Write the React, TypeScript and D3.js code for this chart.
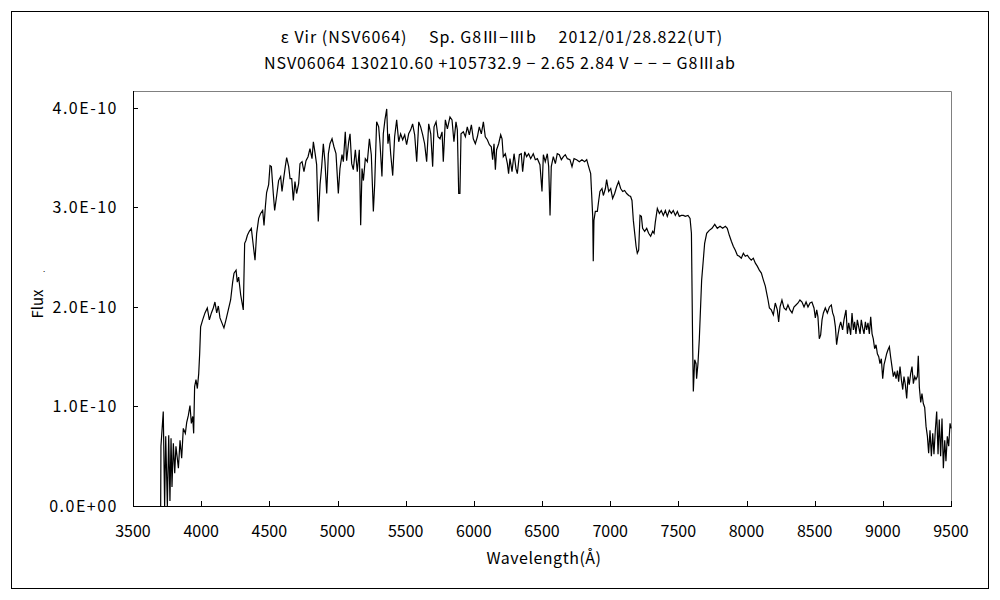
import React from "react";
import * as d3 from "d3";

const titleLine1 = "ε  Vir (NSV6064)　 Sp. G8Ⅲ−Ⅲb　 2012/01/28.822(UT)";
const titleLine2 = "NSV06064 130210.60 +105732.9 − 2.65 2.84 V − − − G8Ⅲab";
const xTicks = [3500, 4000, 4500, 5000, 5500, 6000, 6500, 7000, 7500, 8000, 8500, 9000, 9500];
const yTicks = [0, 1, 2, 3, 4];
const yTickLabels = ["0.0E+00", "1.0E-10", "2.0E-10", "3.0E-10", "4.0E-10"];
const xTitle = "Wavelength(Å)";
const yTitle = "Flux";

// wavelength (Å), flux (×1E-10)
const spectrumBlue: [number, number][] = [
  [3703, 0.0], [3705, 0.6], [3722, 0.95], [3732, 0.0], [3740, 0.7], [3752, 0.0], [3762, 0.71], [3771, 0.05],
  [3779, 0.68], [3786, 0.19], [3796, 0.63], [3806, 0.33], [3815, 0.6], [3833, 0.38], [3845, 0.66], [3857, 0.48],
  [3869, 0.78], [3884, 0.73], [3894, 0.84], [3906, 0.91], [3918, 1.01], [3928, 0.83], [3938, 0.9], [3945, 0.73],
  [3952, 1.2], [3962, 1.27], [3972, 1.18], [3982, 1.33], [3989, 1.53], [3996, 1.8], [4011, 1.87], [4028, 1.94],
  [4045, 1.99], [4060, 1.87], [4075, 1.94], [4089, 1.99], [4101, 2.05], [4114, 1.94], [4126, 2.01], [4138, 1.89],
  [4158, 1.82], [4167, 1.79], [4182, 1.87], [4199, 1.97], [4216, 2.07], [4231, 2.25], [4241, 2.34], [4256, 2.37],
  [4265, 2.25], [4275, 2.3], [4290, 2.12], [4309, 1.97], [4319, 2.64], [4329, 2.67], [4339, 2.72], [4353, 2.76],
  [4368, 2.79], [4383, 2.61], [4395, 2.47], [4407, 2.74], [4422, 2.89], [4436, 2.94], [4451, 2.97], [4461, 2.82],
  [4471, 3.01], [4480, 3.15], [4495, 3.23], [4505, 3.42], [4515, 3.41], [4529, 3.14], [4539, 2.97], [4554, 3.12],
  [4568, 3.27], [4583, 3.31], [4593, 3.16], [4603, 3.27], [4617, 3.41], [4627, 3.5], [4642, 3.41], [4652, 3.29],
  [4664, 3.29], [4676, 3.07], [4688, 3.26], [4700, 3.14], [4715, 3.24], [4725, 3.44], [4740, 3.46], [4754, 3.36],
  [4769, 3.47], [4784, 3.51], [4798, 3.59], [4813, 3.49], [4823, 3.66], [4837, 3.53], [4847, 3.43], [4859, 2.86],
  [4872, 3.23], [4884, 3.41], [4896, 3.64], [4908, 3.46], [4921, 3.14], [4933, 3.54], [4945, 3.64], [4960, 3.69],
  [4974, 3.61], [4989, 3.54], [5006, 3.14], [5018, 3.39], [5033, 3.53], [5043, 3.46], [5057, 3.76], [5067, 3.47],
  [5082, 3.66], [5092, 3.74], [5104, 3.44], [5116, 3.38], [5131, 3.58], [5145, 3.36], [5160, 3.58], [5170, 2.82],
  [5180, 3.39], [5190, 3.27], [5204, 3.49], [5219, 3.46], [5234, 3.69], [5248, 3.53], [5263, 2.96], [5273, 3.24],
  [5287, 3.86], [5302, 3.81], [5312, 3.64], [5326, 3.31], [5336, 3.74], [5348, 3.88], [5361, 3.99], [5370, 3.64],
  [5380, 3.74], [5390, 3.54], [5405, 3.32], [5419, 3.71], [5434, 3.88], [5449, 3.66], [5463, 3.74], [5478, 3.68],
  [5493, 3.73], [5507, 3.63], [5522, 3.74], [5537, 3.78], [5551, 3.84], [5566, 3.73], [5581, 3.46], [5596, 3.86],
  [5610, 3.81], [5625, 3.73], [5639, 3.64], [5654, 3.46], [5669, 3.84], [5684, 3.74], [5698, 3.41], [5708, 3.81],
  [5723, 3.86], [5737, 3.71], [5752, 3.69], [5767, 3.76], [5776, 3.46], [5791, 3.88], [5806, 3.79],
];

const spectrumMid: [number, number][] = [
  [5825, 3.91], [5840, 3.88], [5854, 3.66], [5869, 3.86], [5879, 3.78], [5889, 3.14], [5898, 3.14], [5906, 3.74],
  [5923, 3.76], [5938, 3.71], [5952, 3.81], [5967, 3.73], [5982, 3.83], [5996, 3.69], [6011, 3.64], [6026, 3.71],
  [6040, 3.81], [6055, 3.74], [6070, 3.86], [6084, 3.71], [6099, 3.68], [6114, 3.63], [6128, 3.61], [6138, 3.48],
  [6148, 3.64], [6158, 3.38], [6167, 3.58], [6182, 3.64], [6197, 3.73], [6207, 3.69], [6216, 3.51], [6231, 3.54],
  [6246, 3.44], [6255, 3.34], [6265, 3.49], [6280, 3.36], [6295, 3.54], [6309, 3.39], [6319, 3.34], [6334, 3.53],
  [6348, 3.54], [6358, 3.36], [6373, 3.56], [6387, 3.51], [6402, 3.54], [6417, 3.49], [6436, 3.54], [6451, 3.48],
  [6466, 3.49], [6485, 3.43], [6500, 3.16], [6510, 3.53], [6524, 3.46], [6539, 3.54], [6549, 3.41], [6559, 2.92],
  [6568, 3.41], [6583, 3.51], [6598, 3.44], [6612, 3.54], [6627, 3.53], [6642, 3.48], [6657, 3.51], [6671, 3.53],
  [6686, 3.49], [6705, 3.48], [6720, 3.41], [6735, 3.49], [6754, 3.48], [6774, 3.46], [6793, 3.48], [6813, 3.46],
  [6828, 3.48], [6842, 3.41], [6857, 3.34], [6872, 2.91], [6876, 2.46], [6881, 2.87], [6891, 2.96], [6906, 2.96],
  [6916, 3.07], [6925, 3.16], [6940, 3.19], [6950, 3.12], [6965, 3.19], [6974, 3.28], [6989, 3.16], [7004, 3.19],
  [7018, 3.09], [7033, 3.14], [7048, 3.21], [7062, 3.26], [7077, 3.19], [7092, 3.16], [7106, 3.17], [7121, 3.14],
  [7136, 3.12], [7150, 3.11], [7160, 3.07], [7170, 2.87], [7180, 2.74], [7190, 2.61], [7199, 2.54], [7209, 2.57],
  [7219, 2.92], [7229, 2.91], [7238, 2.79], [7253, 2.76], [7268, 2.79], [7282, 2.74], [7297, 2.71], [7312, 2.76],
  [7322, 2.74], [7331, 2.85], [7346, 2.99], [7361, 2.94], [7375, 2.97], [7390, 2.92], [7405, 2.97], [7419, 2.91],
  [7434, 2.97], [7449, 2.94], [7463, 2.97], [7478, 2.92], [7493, 2.96], [7507, 2.91], [7522, 2.92], [7537, 2.92],
  [7551, 2.91], [7571, 2.92], [7586, 2.89], [7596, 2.74], [7605, 1.63], [7610, 1.15], [7620, 1.47], [7630, 1.43],
  [7634, 1.28], [7644, 1.43], [7654, 1.68],
];

const spectrumRed: [number, number][] = [
  [7671, 2.27], [7683, 2.47], [7693, 2.64], [7708, 2.74], [7727, 2.77], [7747, 2.79], [7767, 2.83], [7786, 2.79],
  [7806, 2.81], [7825, 2.79], [7845, 2.81], [7859, 2.79], [7874, 2.72], [7889, 2.66], [7903, 2.61], [7918, 2.57],
  [7933, 2.52], [7947, 2.51], [7962, 2.49], [7977, 2.54], [7991, 2.51], [8006, 2.52], [8021, 2.49], [8035, 2.47],
  [8050, 2.49], [8065, 2.44], [8079, 2.41], [8094, 2.37], [8109, 2.34], [8124, 2.27], [8138, 2.21], [8148, 2.14],
  [8158, 2.07], [8168, 1.99], [8182, 1.97], [8197, 1.92], [8211, 2.04], [8226, 1.97], [8236, 1.85], [8246, 2.0],
  [8260, 2.07], [8275, 1.99], [8290, 1.97], [8304, 2.02], [8319, 1.97], [8334, 1.94], [8348, 2.0], [8363, 2.02],
  [8378, 2.04], [8392, 2.07], [8407, 2.05], [8422, 2.0], [8437, 2.05], [8451, 2.0], [8466, 2.04], [8480, 2.05],
  [8495, 1.99], [8505, 1.89], [8515, 1.97], [8524, 1.9], [8534, 1.68], [8544, 1.72], [8554, 1.87], [8564, 1.94],
  [8578, 1.99], [8593, 1.94], [8608, 2.0], [8622, 2.02], [8632, 1.94], [8642, 1.9], [8652, 1.8], [8661, 1.62],
  [8671, 1.72], [8681, 1.8], [8691, 1.85], [8705, 1.77], [8715, 1.87], [8730, 1.97], [8740, 1.73], [8750, 1.84],
  [8764, 1.72], [8774, 1.94], [8784, 1.77], [8793, 1.85], [8803, 1.73], [8813, 1.87], [8823, 1.8], [8833, 1.73],
  [8842, 1.87], [8852, 1.79], [8862, 1.73], [8872, 1.85], [8881, 1.77], [8891, 1.84], [8901, 1.73], [8911, 1.9],
  [8921, 1.73], [8930, 1.68], [8940, 1.58], [8950, 1.62], [8960, 1.53], [8970, 1.5], [8979, 1.43], [8989, 1.48],
  [8999, 1.28], [9009, 1.42], [9018, 1.47], [9028, 1.53], [9038, 1.57], [9048, 1.6], [9057, 1.5], [9067, 1.4],
  [9077, 1.3], [9087, 1.35], [9097, 1.28], [9107, 1.36], [9116, 1.25], [9126, 1.4], [9136, 1.27], [9146, 1.17],
  [9155, 1.3], [9165, 1.22], [9175, 1.08], [9185, 1.3], [9194, 1.22], [9204, 1.33], [9214, 1.4], [9224, 1.23],
  [9234, 1.3], [9243, 1.27], [9253, 1.3], [9260, 1.51], [9268, 1.19], [9278, 1.04], [9287, 1.13], [9297, 1.03],
  [9307, 0.99], [9317, 0.8], [9327, 0.7], [9336, 0.53], [9346, 0.76], [9356, 0.5], [9366, 0.73], [9375, 0.52],
  [9385, 0.76], [9395, 0.95], [9405, 0.52], [9414, 0.87], [9424, 0.5], [9434, 0.88], [9444, 0.38], [9454, 0.66],
  [9463, 0.45], [9473, 0.7], [9483, 0.6], [9493, 0.83], [9500, 0.78],
];

const spectrum = [...spectrumBlue, ...spectrumMid, ...spectrumRed];

const FONT = "'Noto Sans CJK JP', 'Noto Sans', sans-serif";

export default function App() {
  const W = 1000;
  const H = 600;
  const left = 133;
  const right = 951;
  const top = 91;
  const bottom = 506;

  const x = d3.scaleLinear().domain([3500, 9500]).range([left, right]);
  const y = d3.scaleLinear().domain([0, 4.17]).range([bottom, top]);

  const line = d3
    .line<[number, number]>()
    .x((d) => x(d[0]))
    .y((d) => y(Math.max(0, d[1])));

  return (
    <svg
      width={W}
      height={H}
      style={{ position: "absolute", left: 0, top: 0, background: "#fff" }}
      fontFamily={FONT}
    >
      <rect x={0} y={0} width={W} height={H} fill="#fff" />
      <rect x={11.5} y={11.5} width={977} height={577} fill="none" stroke="#000" strokeWidth={1} />

      <text x={502} y={43} textAnchor="middle" fontSize={16} letterSpacing={1} fill="#000">
        {titleLine1}
      </text>
      <text x={500} y={69} textAnchor="middle" fontSize={16} letterSpacing={0.9} fill="#000">
        {titleLine2}
      </text>

      {/* plot frame top/right (gray) */}
      <path d={`M${left},${top + 0.5}H${right + 0.5}V${bottom}`} fill="none" stroke="#808080" strokeWidth={1} />

      {/* axes */}
      <line x1={left + 0.5} x2={left + 0.5} y1={top} y2={bottom + 0.5} stroke="#000" />
      <line x1={left} x2={right + 1} y1={bottom + 0.5} y2={bottom + 0.5} stroke="#000" />

      {xTicks.map((t) => (
        <g key={t}>
          <line x1={Math.round(x(t)) + 0.5} x2={Math.round(x(t)) + 0.5} y1={bottom} y2={bottom - 5} stroke="#000" />
          <text x={x(t)} y={537} textAnchor="middle" fontSize={16} fill="#000">
            {t}
          </text>
        </g>
      ))}

      {yTicks.map((t, i) => (
        <g key={t}>
          <line x1={left} x2={left + 5} y1={Math.round(y(t)) + 0.5} y2={Math.round(y(t)) + 0.5} stroke="#000" />
          <text x={118} y={y(t)} dy="0.35em" textAnchor="end" fontSize={16} letterSpacing={1.5} fill="#000">
            {yTickLabels[i]}
          </text>
        </g>
      ))}

      <text x={544} y={564} textAnchor="middle" fontSize={16} letterSpacing={0.5} fill="#000">
        {xTitle}
      </text>
      <text
        transform={`translate(43,304) rotate(-90)`}
        textAnchor="middle"
        fontSize={15}
        fill="#000"
      >
        {yTitle}
      </text>
      <text x={44} y={272} fontSize={8} fill="#000" textAnchor="middle">
        .
      </text>

      <path d={line(spectrum) || ""} fill="none" stroke="#000" strokeWidth={1.2} strokeLinejoin="miter" />
    </svg>
  );
}
